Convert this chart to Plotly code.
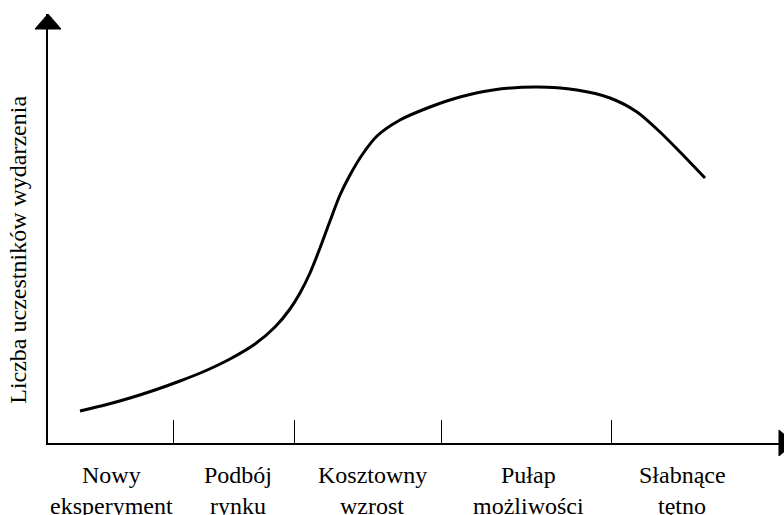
import plotly.graph_objects as go

# curve (x: time, y: participants), arbitrary units
curve_x = [32, 57, 82, 107, 132, 157, 182, 207, 227, 242, 252, 262, 272, 282, 292,
           302, 314, 329, 352, 382, 412, 445, 489, 529, 562, 589, 612, 632, 657]
curve_y = [32, 38, 45, 53, 62, 72, 84, 99, 116, 134, 150, 170, 195, 222, 248,
           268, 288, 307, 323, 336, 346, 353, 356, 353, 345, 331, 311, 291, 265]

# boundaries between phases
phase_breaks = [125, 246, 393, 563]

# phase labels (two lines each) and their centres
phase_centres = [63, 190, 324, 480, 634]
phase_top = ["Nowy", "Podbój", "Kosztowny", "Pułap", "Słabnące"]
phase_bottom = ["eksperyment", "rynku", "wzrost", "możliwości", "tętno"]

y_title = "Liczba uczestników wydarzenia"

FONT = "Liberation Serif, Times New Roman, DejaVu Serif, serif"

fig = go.Figure()

fig.add_trace(
    go.Scatter(
        x=curve_x,
        y=curve_y,
        mode="lines",
        line=dict(color="black", width=3, shape="spline", smoothing=0.8),
        hoverinfo="skip",
        showlegend=False,
    )
)

annotations = []
for cx, top, bottom in zip(phase_centres, phase_top, phase_bottom):
    annotations.append(
        dict(x=cx, y=0, xref="x", yref="paper", text=top, showarrow=False,
             yanchor="middle", yshift=-32, font=dict(size=24, color="black", family=FONT))
    )
    annotations.append(
        dict(x=cx, y=0, xref="x", yref="paper", text=bottom, showarrow=False,
             yanchor="middle", yshift=-63, font=dict(size=24, color="black", family=FONT))
    )

annotations.append(
    dict(x=-0.041, y=0.45, xref="paper", yref="paper", text=y_title, showarrow=False,
         xanchor="center", yanchor="middle", textangle=-90,
         font=dict(size=24, color="black", family=FONT))
)

# arrow heads at the ends of both axes
shapes = [
    dict(type="path", xref="paper", yref="paper",
         path="M -0.0177,0.965 L 0.0177,0.965 L 0,1.0 Z",
         fillcolor="black", line=dict(color="black", width=1)),
    dict(type="path", xref="paper", yref="paper",
         path="M 0.9932,-0.0303 L 0.9932,0.0303 L 1.0136,0 Z",
         fillcolor="black", line=dict(color="black", width=1)),
]

fig.update_layout(
    width=784,
    height=515,
    margin=dict(l=48, r=0, t=14, b=72),
    plot_bgcolor="white",
    paper_bgcolor="white",
    font=dict(family=FONT, color="black"),
    annotations=annotations,
    shapes=shapes,
    xaxis=dict(
        range=[0, 736],
        showgrid=False,
        zeroline=False,
        showline=True,
        linecolor="black",
        linewidth=2,
        tickmode="array",
        tickvals=phase_breaks,
        ticks="inside",
        ticklen=23,
        tickwidth=1,
        tickcolor="black",
        showticklabels=False,
        fixedrange=True,
    ),
    yaxis=dict(
        range=[0, 429],
        showgrid=False,
        zeroline=False,
        showline=True,
        linecolor="black",
        linewidth=2,
        showticklabels=False,
        ticks="",
        fixedrange=True,
    ),
)

fig.write_html(
    "out.html",
    config={"displayModeBar": False},
    post_script="document.body.style.margin='0';document.body.style.overflow='hidden';",
)
